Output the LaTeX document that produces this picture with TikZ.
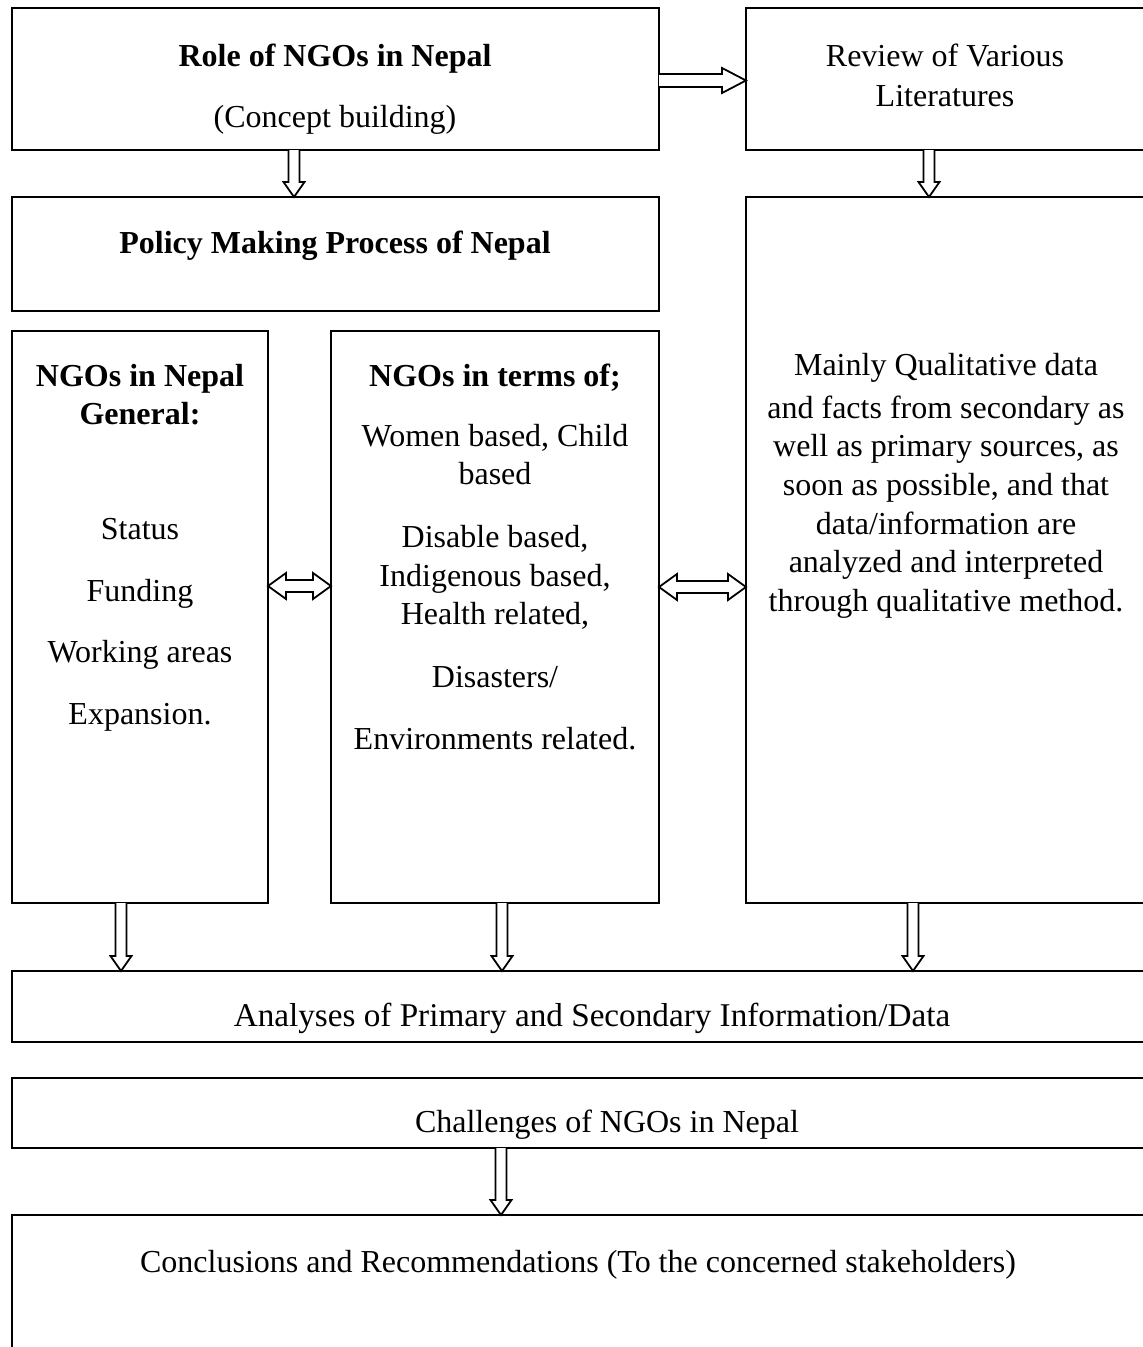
\documentclass[tikz,border=0pt]{standalone}
\usepackage{fontspec}
\setmainfont{Liberation Serif}
\usetikzlibrary{calc}
\tikzset{
  box/.style={draw, line width=2pt, outer sep=0pt, inner sep=0pt, anchor=north west},
  txt/.style={inner sep=0pt, anchor=base, font=\fontsize{32}{39}\selectfont},
  blk/.style={draw, line width=1.8pt, fill=white, line join=miter},
}
\newcommand\blkdown[2]{\draw[blk] let \p1=#1, \p2=#2 in
  (\x1-5.5pt,\y1) -- (\x1-5.5pt,\y2+15pt) -- (\x1-10.5pt,\y2+15pt) -- (\x1,\y2) --
  (\x1+10.5pt,\y2+15pt) -- (\x1+5.5pt,\y2+15pt) -- (\x1+5.5pt,\y1);}
\newcommand\blkright[2]{\draw[blk] let \p1=#1, \p2=#2 in
  (\x1,\y1+6.5pt) -- (\x2-24pt,\y1+6.5pt) -- (\x2-24pt,\y1+12.5pt) -- (\x2,\y1) --
  (\x2-24pt,\y1-12.5pt) -- (\x2-24pt,\y1-6.5pt) -- (\x1,\y1-6.5pt);}
\newcommand\blkboth[2]{\draw[blk] let \p1=#1, \p2=#2 in
  (\x1,\y1) -- (\x1+18pt,\y1+13pt) -- (\x1+18pt,\y1+6pt) -- (\x2-18pt,\y1+6pt) --
  (\x2-18pt,\y1+13pt) -- (\x2,\y1) -- (\x2-18pt,\y1-13pt) -- (\x2-18pt,\y1-6pt) --
  (\x1+18pt,\y1-6pt) -- (\x1+18pt,\y1-13pt) -- cycle;}
\begin{document}
\begin{tikzpicture}[x=1pt,y=-1pt]
\useasboundingbox (0,0) rectangle (1143,1347);
\clip (0,0) rectangle (1143,1347);
% boxes
\node[box, minimum width=647pt, minimum height=142pt] (b1) at (12,8) {};
\node[box, minimum width=420pt, minimum height=142pt] (b2) at (746,8) {};
\node[box, minimum width=647pt, minimum height=114pt] (b3) at (12,197) {};
\node[box, minimum width=420pt, minimum height=706pt] (b4) at (746,197) {};
\node[box, minimum width=256pt, minimum height=572pt] (b5) at (12,331) {};
\node[box, minimum width=328pt, minimum height=572pt] (b6) at (331,331) {};
\node[box, minimum width=1154pt, minimum height=71pt] (b7) at (12,971) {};
\node[box, minimum width=1154pt, minimum height=70pt] (b8) at (12,1078) {};
\node[box, minimum width=1154pt, minimum height=200pt] (b9) at (12,1215) {};
% texts
\node[txt] (t1a) at (335,66) {\bfseries Role of NGOs in Nepal};
\node[txt] (t1b) at (335,127) {(Concept building)};
\node[txt] (t2a) at (945,66) {Review of Various};
\node[txt] (t2b) at (945,106) {Literatures};
\node[txt] (t3) at (335,253) {\bfseries Policy Making Process of Nepal};
\node[txt] (t5a) at (140,386) {\bfseries NGOs in Nepal};
\node[txt] (t5b) at (140,424) {\bfseries General:};
\foreach \t/\y [count=\i] in {Status/539, Funding/601, {Working areas}/662, {Expansion.}/724}
  \node[txt] (t5l\i) at (140,\y) {\t};
\node[txt] (t6a) at (495,386) {\bfseries NGOs in terms of;};
\foreach \t/\y [count=\i] in {{Women based, Child}/446, based/484, {Disable based,}/547,
  {Indigenous based,}/586, {Health related,}/624, {Disasters/}/687, {Environments related.}/749}
  \node[txt] (t6l\i) at (495,\y) {\t};
\foreach \t/\y [count=\i] in {{Mainly Qualitative data}/375, {and facts from secondary as}/418,
  {well as primary sources, as}/456, {soon as possible, and that}/495,
  {data/information are}/534, {analyzed and interpreted}/572, {through qualitative method.}/611}
  \node[txt] (t4l\i) at (946,\y) {\t};
\node[txt, font=\fontsize{33.2}{39}\selectfont] (t7) at (592,1026) {Analyses of Primary and Secondary Information/Data};
\node[txt] (t8) at (607,1132) {Challenges of NGOs in Nepal};
\node[txt] (t9) at (578,1272) {Conclusions and Recommendations (To the concerned stakeholders)};
% arrow positions
\coordinate (a13) at (294,0);
\coordinate (a24) at (929,0);
\coordinate (a57) at (121,0);
\coordinate (a67) at (502,0);
\coordinate (a47) at (913,0);
\coordinate (a89) at (501,0);
\coordinate (h12) at (0,80.5);
\coordinate (h56) at (0,586);
\coordinate (h64) at (0,587);
% arrows
\blkright{(b1.east |- h12)}{(b2.west |- h12)}
\blkdown{(a13 |- b1.south)}{(a13 |- b3.north)}
\blkdown{(a24 |- b2.south)}{(a24 |- b4.north)}
\blkboth{(b5.east |- h56)}{(b6.west |- h56)}
\blkboth{(b6.east |- h64)}{(b4.west |- h64)}
\blkdown{(a57 |- b5.south)}{(a57 |- b7.north)}
\blkdown{(a67 |- b6.south)}{(a67 |- b7.north)}
\blkdown{(a47 |- b4.south)}{(a47 |- b7.north)}
\blkdown{(a89 |- b8.south)}{(a89 |- b9.north)}
\end{tikzpicture}
\end{document}
